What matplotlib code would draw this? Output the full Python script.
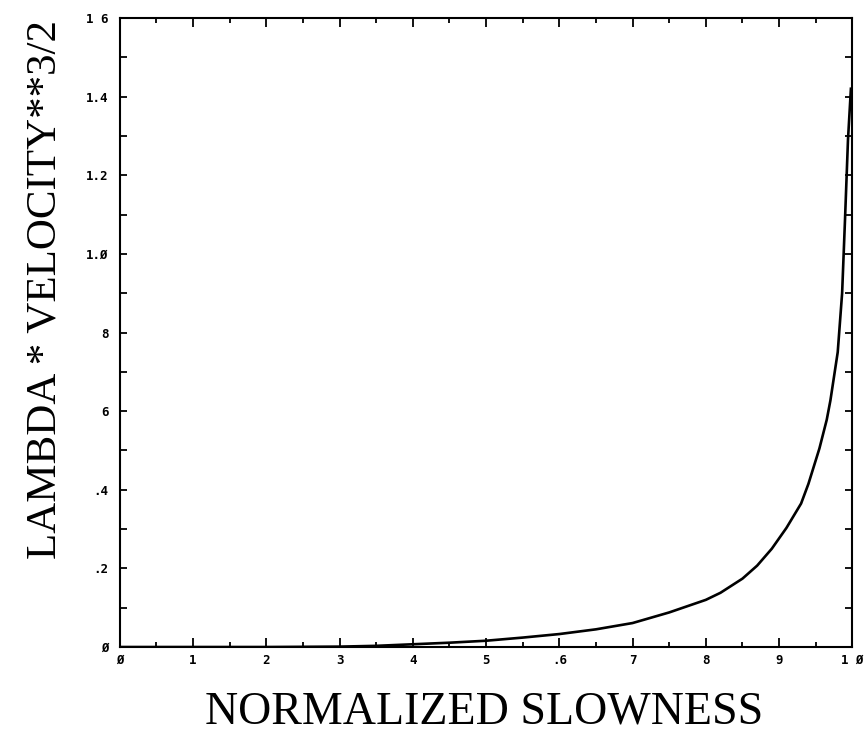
import numpy as np
import matplotlib.pyplot as plt
from matplotlib.ticker import MultipleLocator

# curve
slowness = [0.0, 0.1, 0.2, 0.3, 0.35, 0.40, 0.45, 0.50, 0.55, 0.60, 0.65, 0.70,
            0.75, 0.80, 0.82, 0.85, 0.87, 0.89, 0.91, 0.93, 0.94, 0.955, 0.965,
            0.97, 0.98, 0.986, 0.99, 0.994, 0.998]
lam_vel = [0.0, 0.0, 0.0, 0.001, 0.003, 0.007, 0.011, 0.016, 0.024, 0.033, 0.045,
           0.061, 0.088, 0.120, 0.138, 0.174, 0.207, 0.250, 0.303, 0.365, 0.415,
           0.505, 0.578, 0.627, 0.750, 0.900, 1.090, 1.290, 1.420]

x_ticks = [0.0, 0.1, 0.2, 0.3, 0.4, 0.5, 0.6, 0.7, 0.8, 0.9, 1.0]
x_labels = ["Ø", "1", "2", "3", "4", "5", ".6", "7", "8", "9", "1 Ø"]
y_ticks = [0.0, 0.2, 0.4, 0.6, 0.8, 1.0, 1.2, 1.4, 1.6]
y_labels = ["Ø", ".2", ".4", "6", "8", "1.Ø", "1.2", "1.4", "1 6"]

fig = plt.figure(figsize=(8.68, 7.34), dpi=100)
ax = fig.add_axes([0.138, 0.1185, 0.844, 0.857])

ax.plot(slowness, lam_vel, color="black", lw=1.9)

ax.set_xlim(0, 1.0)
ax.set_ylim(0, 1.6)
ax.set_xticks(x_ticks)
ax.set_xticklabels(x_labels)
ax.set_yticks(y_ticks)
ax.set_yticklabels(y_labels)
ax.xaxis.set_minor_locator(MultipleLocator(0.05))
ax.yaxis.set_minor_locator(MultipleLocator(0.1))

ax.tick_params(which="both", direction="in", top=True, right=True, width=1.3, color="black")
ax.tick_params(axis="x", which="major", length=6.5, pad=5)
ax.tick_params(axis="x", which="minor", length=3.5)
ax.tick_params(axis="y", which="both", length=5, pad=8)
for lab in ax.get_xticklabels() + ax.get_yticklabels():
    lab.set_family("DejaVu Sans Mono")
    lab.set_fontweight("bold")
    lab.set_fontsize(9)

for s in ax.spines.values():
    s.set_linewidth(1.5)

fig.text(0.558, 0.030, "NORMALIZED SLOWNESS", family="Liberation Serif",
         fontsize=33, ha="center", va="center")
fig.text(0.052, 0.605, "LAMBDA * VELOCITY**3/2", family="Liberation Serif",
         fontsize=31, ha="center", va="center", rotation=90)

fig.savefig("out.png", dpi=100)
